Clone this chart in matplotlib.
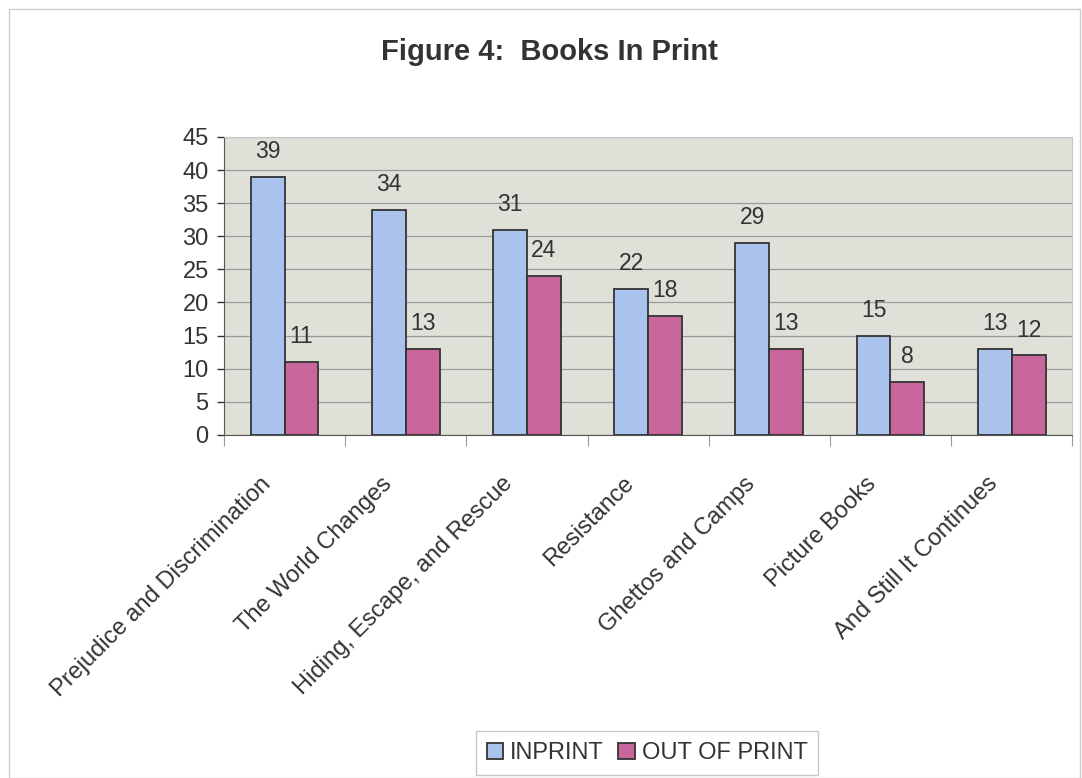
import matplotlib
matplotlib.use("Agg")
import matplotlib.pyplot as plt
import numpy as np
from matplotlib.patches import Rectangle
from matplotlib.transforms import ScaledTranslation

categories = ["Prejudice and Discrimination", "The World Changes",
              "Hiding, Escape, and Rescue", "Resistance", "Ghettos and Camps",
              "Picture Books", "And Still It Continues"]
inprint = [39, 34, 31, 22, 29, 15, 13]
out_of_print = [11, 13, 24, 18, 13, 8, 12]

plt.rcParams['font.family'] = ['Liberation Sans', 'DejaVu Sans']
txt = "#333333"

fig = plt.figure(figsize=(10.82, 7.78), dpi=100)
ax = fig.add_axes([0.207, 0.441, 0.784, 0.383])

x = np.arange(len(categories))
w = 0.28
b1 = ax.bar(x - w/2, inprint, w, color="#a9c3ee", edgecolor="#333333", linewidth=1.3,
            label="INPRINT", zorder=3)
b2 = ax.bar(x + w/2, out_of_print, w, color="#c9679c", edgecolor="#333333", linewidth=1.3,
            label="OUT OF PRINT", zorder=3)

for bars, vals in [(b1, inprint), (b2, out_of_print)]:
    for r, v in zip(bars, vals):
        ax.annotate(str(v), (r.get_x() + r.get_width()/2, v), xytext=(0, 10),
                    textcoords="offset points", ha="center", va="bottom",
                    fontsize=16.5, color=txt)

ax.set_facecolor("#dfe1d9")
ax.set_xlim(-0.5, len(categories) - 0.5)
ax.set_ylim(0, 45)
ax.set_yticks(range(0, 46, 5))
ax.yaxis.grid(True, color="#9a9a9a", linewidth=0.9, zorder=0)
ax.tick_params(axis="y", labelsize=17, colors=txt, length=5, width=1, pad=6)

# category separators below the axis
ax.set_xticks(np.arange(-0.5, len(categories)), minor=True)
ax.set_xticks(x)
ax.tick_params(axis="x", which="minor", length=8, width=0.8, color="#999999")
ax.tick_params(axis="x", which="major", length=0)
ax.set_xticklabels(categories, rotation=45, ha="right", va="top",
                   rotation_mode="anchor", fontsize=17, color=txt)
shift = ScaledTranslation(-0.25, -0.33, fig.dpi_scale_trans)
for t in ax.xaxis.get_majorticklabels():
    t.set_transform(t.get_transform() + shift)

for s in ["top", "right"]:
    ax.spines[s].set_color("#c8c8c8")
    ax.spines[s].set_linewidth(0.8)
ax.spines["left"].set_color("#555555")
ax.spines["bottom"].set_color("#555555")

fig.text(0.508, 0.933, "Figure 4:  Books In Print", ha="center", va="center",
         fontsize=21, fontweight="bold", color=txt)

leg = fig.legend(loc="center", bbox_to_anchor=(0.598, 0.032), ncol=2, fontsize=17,
                 frameon=True, fancybox=False, edgecolor="#bbbbbb",
                 handlelength=0.7, handleheight=0.7, handletextpad=0.3,
                 columnspacing=0.6, borderpad=0.45)
for t in leg.get_texts():
    t.set_color(txt)

fig.patches.append(Rectangle((0.008, 0.0), 0.99, 0.988, transform=fig.transFigure,
                             fill=False, edgecolor="#cccccc", linewidth=1))

fig.savefig("out.png", dpi=100)
